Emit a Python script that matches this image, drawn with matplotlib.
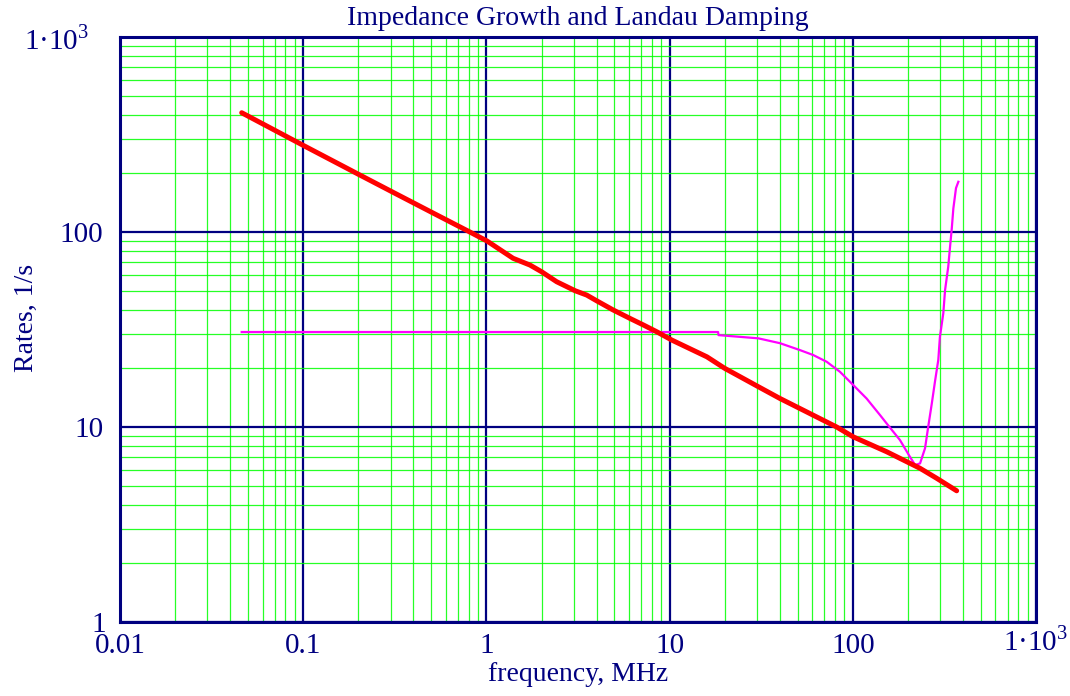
import matplotlib
matplotlib.use("Agg")
import matplotlib.pyplot as plt
import matplotlib.transforms as mtransforms
from matplotlib.ticker import LogLocator, NullFormatter

# Colours and fonts
NAVY = "#000080"
GREEN = "#00ff00"
plt.rcParams["font.family"] = ["Liberation Serif", "DejaVu Serif"]
plt.rcParams["mathtext.fontset"] = "custom"
plt.rcParams["mathtext.rm"] = "Liberation Serif"

# Impedance growth rate (red)
growth_freq = [0.0462, 0.101, 0.204, 0.317, 0.513, 0.813, 1.007, 1.40, 1.73,
               2.00, 2.42, 3.05, 3.53, 4.00, 4.93, 6.21, 7.18, 8.51, 10.3,
               16.0, 20.0, 30.5, 40.1, 60.8, 81.7, 100.7, 153, 233, 287, 369]
growth_rate = [409, 277, 196, 158, 125, 100, 90, 73.3, 67.7,
               62.6, 55.6, 50.0, 47.5, 44.4, 39.8, 35.7, 33.4, 30.8, 27.9,
               22.9, 20.0, 16.1, 14.0, 11.5, 10.0, 8.9, 7.47, 6.14, 5.46, 4.71]

# Landau damping rate (magenta)
damp_freq = [0.0462, 18.4, 18.5, 30.5, 40.1, 51.5, 60.8, 72.1, 85.1, 100.7,
             119, 141, 156, 181, 205, 219, 233, 248, 258, 270, 281, 293,
             299, 312, 319, 332, 339, 347, 354, 366, 377]
damp_rate = [30.7, 30.7, 29.6, 28.5, 26.9, 24.8, 23.4, 21.6, 19.2, 16.4,
             14.0, 11.5, 10.2, 8.57, 7.04, 6.38, 6.51, 7.78, 10.0, 13.2, 17.1,
             22.1, 29.0, 38.3, 50.4, 66.4, 82.5, 104, 132, 168, 181]

TICKS = [0.01, 0.1, 1, 10, 100, 1000]
X_LABELS = ["0.01", "0.1", "1", "10", "100", "1\u00b710$^{3}$"]
Y_TICKS = [1, 10, 100, 1000]
Y_LABELS = ["1", "10", "100", "1\u00b710$^{3}$"]

fig = plt.figure(figsize=(10.7, 6.96), dpi=100)
ax = fig.add_axes([0.1121, 0.1063, 0.8561, 0.8405])
ax.set_xscale("log")
ax.set_yscale("log")
ax.set_xlim(0.01, 1000)
ax.set_ylim(1, 1000)

# Grid: green minor lines, navy major lines
ax.xaxis.set_minor_locator(LogLocator(base=10, subs=range(2, 10), numticks=20))
ax.yaxis.set_minor_locator(LogLocator(base=10, subs=range(2, 10), numticks=20))
ax.xaxis.set_minor_formatter(NullFormatter())
ax.yaxis.set_minor_formatter(NullFormatter())
ax.grid(True, which="minor", color=GREEN, linewidth=0.9, alpha=0.85)
ax.grid(True, which="major", color=NAVY, linewidth=1.6)
ax.set_axisbelow(True)

ax.plot(damp_freq, damp_rate, color="#ff00ff", linewidth=1.6, zorder=3)
ax.plot(growth_freq, growth_rate, color="#ff0000", linewidth=3.6,
        solid_capstyle="round", zorder=4)

ax.set_xticks(TICKS)
ax.set_xticklabels(X_LABELS)
ax.set_yticks(Y_TICKS)
ax.set_yticklabels(Y_LABELS)
ax.tick_params(which="both", length=0)
ax.tick_params(axis="x", pad=8, labelsize=21, labelcolor=NAVY)
ax.tick_params(axis="y", pad=12, labelsize=21, labelcolor=NAVY)

# the bottom "1" sits a little to the right, as in the original
lbl = ax.get_yticklabels()[0]
lbl.set_transform(lbl.get_transform() +
                  mtransforms.ScaledTranslation(0.03, 0.0, fig.dpi_scale_trans))
# the top 1e3 label is set further left
lbl = ax.get_yticklabels()[-1]
lbl.set_transform(lbl.get_transform() +
                  mtransforms.ScaledTranslation(-0.14, 0.0, fig.dpi_scale_trans))
# keep the x 1e3 label on the same baseline as the others
lbl = ax.get_xticklabels()[-1]
lbl.set_transform(lbl.get_transform() +
                  mtransforms.ScaledTranslation(0.0, 0.07, fig.dpi_scale_trans))

for s in ax.spines.values():
    s.set_color(NAVY)
    s.set_linewidth(2.2)

ax.set_title("Impedance Growth and Landau Damping", color=NAVY, fontsize=20, pad=9)
ax.set_xlabel("frequency, MHz", color=NAVY, fontsize=20, labelpad=2)
ax.set_ylabel("Rates, 1/s", color=NAVY, fontsize=20)
ax.yaxis.set_label_coords(-0.088, 0.52)

fig.savefig("out.png", dpi=100)
